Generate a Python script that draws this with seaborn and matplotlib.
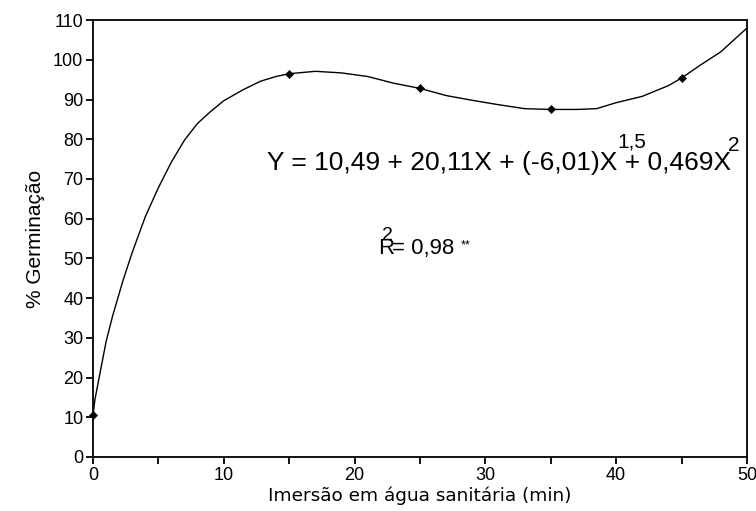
import matplotlib
matplotlib.use('Agg')
import matplotlib.pyplot as plt
import seaborn as sns
from matplotlib.ticker import MultipleLocator

# observed points
obs_x = [0, 15, 25, 35, 45]
obs_y = [10.5, 96.5, 92.8, 87.5, 95.4]

# fitted curve
curve_x = [0, 0.15, 0.5, 1.0, 1.5, 2.3, 3.0, 4.0, 5.0, 6.0, 7.0, 8.0, 9.0, 10.0,
           11.5, 12.8, 14.0, 15.0, 17.0, 19.0, 21.0, 23.0, 25.0, 27.0, 29.0, 31.0,
           33.0, 35.0, 37.0, 38.5, 40.0, 42.0, 44.0, 45.0, 46.5, 48.0, 50.0]
curve_y = [10.5, 14.5, 20.5, 29.0, 35.5, 44.5, 51.5, 60.5, 67.8, 74.3, 79.8, 84.0,
           87.0, 89.7, 92.5, 94.6, 95.8, 96.5, 97.1, 96.7, 95.8, 94.1, 92.8, 91.0,
           89.8, 88.7, 87.7, 87.5, 87.5, 87.7, 89.2, 90.8, 93.5, 95.4, 98.8, 102.0, 108.0]

sns.set_style('ticks')
plt.rcParams['font.family'] = ['Liberation Sans', 'DejaVu Sans']
plt.rcParams['text.color'] = 'black'
plt.rcParams['axes.labelcolor'] = 'black'
plt.rcParams['xtick.color'] = 'black'
plt.rcParams['ytick.color'] = 'black'

fig = plt.figure(figsize=(7.56, 5.11), dpi=100)
ax = fig.add_axes([0.123, 0.1057, 0.865, 0.855])

sns.lineplot(x=curve_x, y=curve_y, color='black', linewidth=1.0, ax=ax, sort=False)
sns.scatterplot(x=obs_x, y=obs_y, color='black', marker='D', s=18, edgecolor='black',
                ax=ax, zorder=5, clip_on=False)

ax.set_xlim(0, 50)
ax.set_ylim(0, 110)
ax.xaxis.set_major_locator(MultipleLocator(10))
ax.xaxis.set_minor_locator(MultipleLocator(5))
ax.yaxis.set_major_locator(MultipleLocator(10))
ax.tick_params(axis='both', which='both', direction='out', length=5, width=1.3,
               labelsize=13, pad=2)
for s in ax.spines.values():
    s.set_color('black')
    s.set_linewidth(1.3)

ax.set_xlabel('Imersão em água sanitária (min)', fontsize=13.3, family='DejaVu Sans', labelpad=2)
ax.set_ylabel('% Germinação', fontsize=15, labelpad=6)

# equation and R²
ax.text(13.3, 74.1, 'Y = 10,49 + 20,11X + (-6,01)X + 0,469X', fontsize=19, va='center', ha='left')
ax.text(40.1, 79.3, '1,5', fontsize=15, va='center', ha='left')
ax.text(48.55, 78.3, '2', fontsize=15, va='center', ha='left')
ax.text(21.8, 52.6, 'R', fontsize=16, va='center', ha='left')
ax.text(22.1, 55.8, '2', fontsize=14, va='center', ha='left')
ax.text(22.9, 52.6, '= 0,98', fontsize=16, va='center', ha='left')
ax.text(28.1, 53.3, '**', fontsize=9, va='center', ha='left')

fig.savefig('out.png', dpi=100)
